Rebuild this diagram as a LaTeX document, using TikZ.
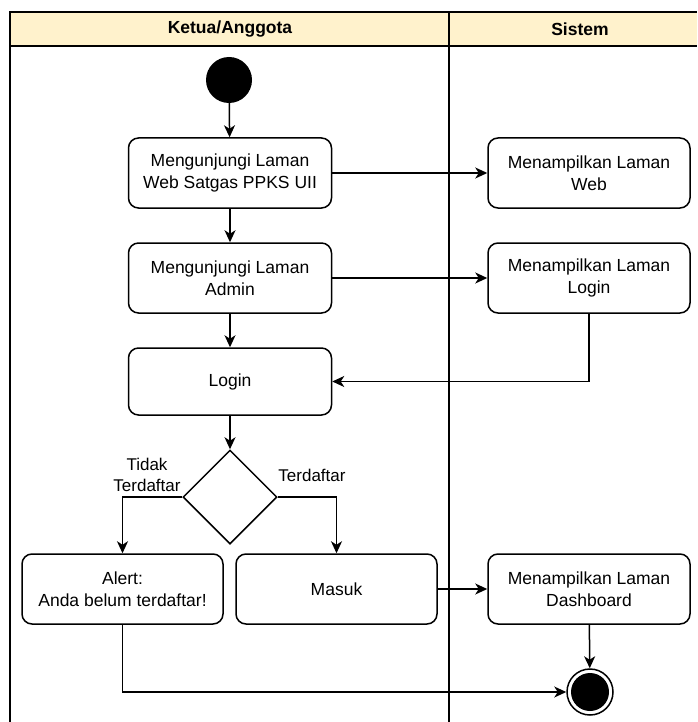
\documentclass[tikz,border=0pt]{standalone}
\usepackage{fontspec}
\setmainfont{Liberation Sans}
\usetikzlibrary{arrows.meta,shapes.geometric}
\definecolor{hdr}{HTML}{FFF2CC}
\begin{document}
\begin{tikzpicture}[x=1pt,y=-1pt,
  act/.style={draw, line width=1.5pt, rounded corners=10pt, minimum width=203pt, minimum height=70pt, align=center, font=\fontsize{17.5}{21.5}\selectfont, inner sep=0pt},
  conn/.style={line width=1.5pt, -{Stealth[length=12pt,width=11pt,inset=3.5pt]}},
  lane/.style={line width=2pt},
  lbl/.style={font=\fontsize{17}{21}\selectfont, align=center, inner sep=0pt},
  hdrtxt/.style={font=\fontsize{17.5}{21}\selectfont\bfseries, inner sep=0pt}]
\useasboundingbox (0,0) rectangle (697,722);
% swimlanes
\fill[hdr] (10,12) rectangle (697,46);
\draw[lane] (10,722) -- (10,12) -- (697,12);
\draw[lane] (10,46) -- (697,46);
\draw[lane] (449,12) -- (449,722);
\node[hdrtxt] (h1) at (230,29) {Ketua/Anggota};
\node[hdrtxt] (h2) at (580,29) {Sistem};
% nodes
\node[circle, fill=black, minimum size=46pt, inner sep=0pt] (start) at (229,80) {};
\node[act] (b1) at (230,173) {Mengunjungi Laman\\Web Satgas PPKS UII};
\node[act] (b2) at (230,278) {Mengunjungi Laman\\Admin};
\node[act, minimum height=67pt] (b3) at (230,381.5) {Login};
\node[act, minimum width=202pt] (s1) at (589,173) {Menampilkan Laman\\Web};
\node[act, minimum width=202pt] (s2) at (589,278) {Menampilkan Laman\\Login};
\node[diamond, draw, line width=1.5pt, minimum width=94pt, minimum height=94pt, inner sep=0pt] (dec) at (230,497) {};
\node[act, minimum width=201pt] (alert) at (122.5,589) {Alert:\\Anda belum terdaftar!};
\node[act, minimum width=201pt] (masuk) at (336.5,589) {Masuk};
\node[act, minimum width=202pt] (s3) at (589,589) {Menampilkan Laman\\Dashboard};
\node[circle, draw, line width=1.5pt, minimum size=46pt, inner sep=0pt] (end) at (590,692) {};
\fill (end.center) circle (19);
% labels
\node[lbl] (l1) at (147,475) {Tidak\\Terdaftar};
\node[lbl] (l2) at (312,475) {Terdaftar};
% connectors
\draw[conn] (start) -- (b1);
\draw[conn] (b1) -- (b2);
\draw[conn] (b2) -- (b3);
\draw[conn] (b1) -- (s1);
\draw[conn] (b2) -- (s2);
\draw[conn] (s2.south) |- (b3.east);
\draw[conn] (b3) -- (dec);
\draw[conn] (dec.west) -| (alert.north);
\draw[conn] (dec.east) -| (masuk.north);
\draw[conn] (masuk) -- (s3);
\draw[conn] (s3) -- (end);
\draw[conn] (alert.south) |- (end.west);
\end{tikzpicture}
\end{document}
